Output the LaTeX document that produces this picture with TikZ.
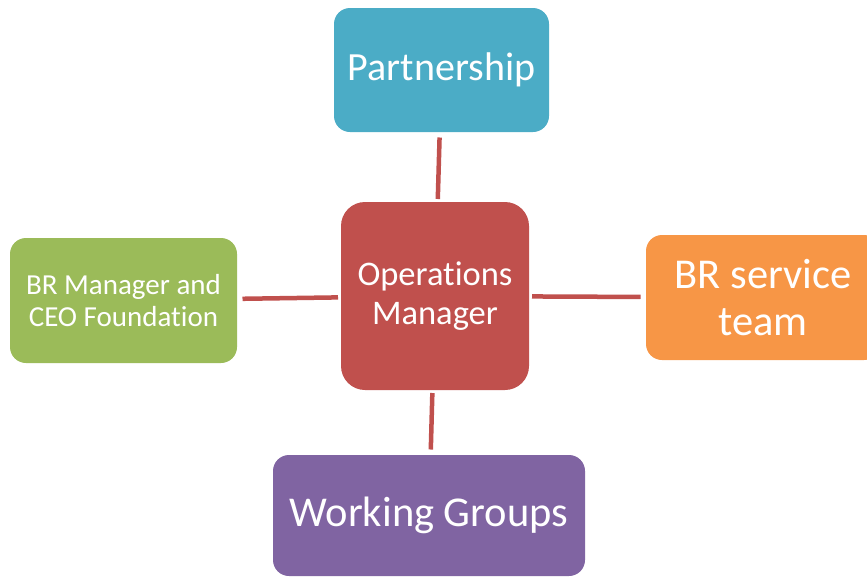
\documentclass[tikz,border=0pt]{standalone}
\usepackage{fontspec}
\setmainfont[Ligatures=NoCommon]{Carlito}
\usepackage{xcolor}
\definecolor{opsred}{RGB}{192,80,77}
\definecolor{partteal}{RGB}{75,172,198}
\definecolor{boardgreen}{RGB}{155,187,89}
\definecolor{teamorange}{RGB}{247,150,70}
\definecolor{grouppurple}{RGB}{128,100,162}

\begin{document}
\begin{tikzpicture}[x=1pt, y=-1pt,
    box/.style={rectangle, rounded corners=16pt, inner sep=0pt, outer sep=0pt, text=white, align=center},
    link/.style={line width=4.5pt, opsred, shorten <=3pt, shorten >=5.5pt}]

    \useasboundingbox (0,0) rectangle (867,576);

    % Centre
    \node[box, fill=opsred, rounded corners=24pt, minimum width=188pt, minimum height=188pt,
          font=\fontsize{34.5}{39}\selectfont] (ops) at (435,296) {Operations\\Manager};

    % Around it
    \node[box, fill=partteal, minimum width=215pt, minimum height=124pt,
          font=\fontsize{40}{47}\selectfont] (part) at (441.5,70) {Partnership};
    \node[box, fill=boardgreen, minimum width=227pt, minimum height=125pt,
          font=\fontsize{29}{32}\selectfont] (board) at (123.5,300.5) {BR Manager and\\CEO Foundation};
    \node[box, fill=teamorange, minimum width=234pt, minimum height=125pt,
          font=\fontsize{42.5}{47}\selectfont] (team) at (763,297.5) {BR service\\team};
    \node[box, fill=grouppurple, minimum width=312pt, minimum height=121pt,
          font=\fontsize{42.5}{47}\selectfont] (groups) at (429,515.5) {Working Groups};

    % Links
    \foreach \n in {part,board,team,groups} {
        \draw[link] (ops) -- (\n);
    }
\end{tikzpicture}
\end{document}
